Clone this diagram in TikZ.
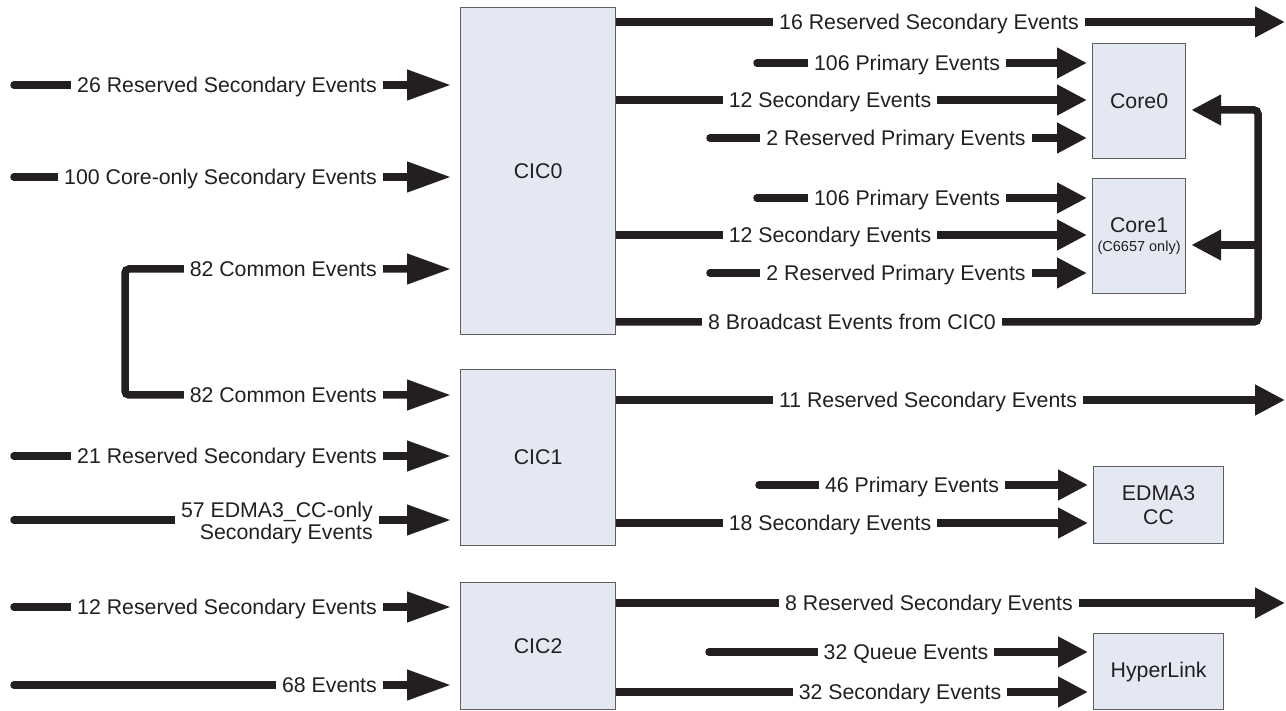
\documentclass[tikz,border=0pt]{standalone}
\usepackage{fontspec}
\setmainfont{Liberation Sans}
\usepackage{xcolor}
\usepackage{tikz}
\usetikzlibrary{arrows.meta}
\pgfdeclarelayer{bg}
\pgfsetlayers{bg,main}
\definecolor{ink}{RGB}{35,31,32}
\definecolor{boxfill}{RGB}{227,232,242}
\definecolor{boxline}{RGB}{95,95,95}
\tikzset{
	inTip/.tip={Triangle[length=44pt, width=29pt]},
	outTip/.tip={Triangle[length=30pt, width=29pt]},
}

\begin{document}
\begin{tikzpicture}[x=1pt, y=-1pt, font=\fontsize{21.3}{24}\selectfont,
		blk/.style={draw=boxline, fill=boxfill, line width=1.2pt, inner sep=0pt, anchor=north west, align=center, text=ink},
		lblm/.style={fill=white, inner xsep=6pt, inner ysep=2pt, text=ink, align=right},
		lbl/.style={lblm, text height=15pt, text depth=0pt},
		evt/.style={draw=ink, line width=7.5pt, -outTip},
		evtin/.style={draw=ink, line width=7.5pt, -inTip, shorten >=9pt},
		free/.style={line cap=round}]
		\useasboundingbox (0,0) rectangle (1286,711);

		\node[blk, minimum width=155pt, minimum height=327pt] (cic0) at (460,7) {CIC0};
		\node[blk, minimum width=155pt, minimum height=176pt] (cic1) at (460,369) {CIC1};
		\node[blk, minimum width=155pt, minimum height=127pt] (cic2) at (460,582) {CIC2};
		\node[blk, minimum width=93pt, minimum height=115pt] (core0) at (1092,43) {Core0};
		\node[blk, minimum width=93pt, minimum height=115pt] (core1) at (1092,178) {Core1\\[-5pt]{\fontsize{14.5}{16}\selectfont (C6657 only)}};
		\node[blk, minimum width=130pt, minimum height=77pt] (edma) at (1093,466) {EDMA3\\CC};
		\node[blk, minimum width=130pt, minimum height=76pt] (hl) at (1093,633) {HyperLink};

		\node[lbl, anchor=east] (l26) at (383,85) {26 Reserved Secondary Events};
		\node[lbl, anchor=east] (l100) at (383,177) {100 Core-only Secondary Events};
		\node[lbl, anchor=east] (lcom0) at (383,269) {82 Common Events};
		\node[lbl, anchor=east] (lcom1) at (383,395) {82 Common Events};
		\node[lbl, anchor=east] (l21) at (383,456) {21 Reserved Secondary Events};
		\node[lblm, anchor=east] (l57) at (379,523) {57 EDMA3\_CC-only\\[-2pt]Secondary Events};
		\node[lbl, anchor=east] (l12) at (383,607) {12 Reserved Secondary Events};
		\node[lbl, anchor=east] (l68) at (383,685) {68 Events};

		\node[lbl] (l16) at (929,22) {16 Reserved Secondary Events};
		\node[lbl] (lp0) at (907,63) {106 Primary Events};
		\node[lbl] (ls0) at (830,100) {12 Secondary Events};
		\node[lbl] (lr0) at (896,138) {2 Reserved Primary Events};
		\node[lbl] (lp1) at (907,198) {106 Primary Events};
		\node[lbl] (ls1) at (830,235) {12 Secondary Events};
		\node[lbl] (lr1) at (896,273) {2 Reserved Primary Events};
		\node[lbl] (lbc) at (852,322) {8 Broadcast Events from CIC0};
		\node[lbl] (l11) at (928,400) {11 Reserved Secondary Events};
		\node[lbl] (lp46) at (912,485) {46 Primary Events};
		\node[lbl] (ls18) at (830,523) {18 Secondary Events};
		\node[lbl] (l8) at (929,603) {8 Reserved Secondary Events};
		\node[lbl] (lq32) at (906,652) {32 Queue Events};
		\node[lbl] (ls32) at (900,692) {32 Secondary Events};

		\coordinate (s26) at (14,85);
		\coordinate (s100) at (14,177);
		\coordinate (s21) at (14,456);
		\coordinate (s57) at (14,520);
		\coordinate (s12) at (14,607);
		\coordinate (s68) at (14,685);
		\coordinate (com) at (125,330);
		\coordinate (p0) at (757,63);
		\coordinate (r0) at (710,138);
		\coordinate (p1) at (757,198);
		\coordinate (r1) at (710,273);
		\coordinate (p46) at (759,485);
		\coordinate (q32) at (709,652);
		\coordinate (o16) at (1285,22);
		\coordinate (o11) at (1285,400);
		\coordinate (o8) at (1285,603);
		\coordinate (b0) at (1258,110);
		\coordinate (b1) at (1258,245);

		\begin{pgfonlayer}{bg}
			\draw[evtin, free] (s26) -- (cic0.west |- s26);
			\draw[evtin, free] (s100) -- (cic0.west |- s100);
			\draw[evtin, inTip-inTip, shorten <=9pt, rounded corners=4pt] (cic0.west |- lcom0) -| (com) |- (cic1.west |- lcom1);
			\draw[evtin, free] (s21) -- (cic1.west |- s21);
			\draw[evtin, free] (s57) -- (cic1.west |- s57);
			\draw[evtin, free] (s12) -- (cic2.west |- s12);
			\draw[evtin, free] (s68) -- (cic2.west |- s68);

			\draw[evt] (cic0.east |- o16) -- (o16);
			\draw[evt, free, shorten >=5pt] (p0) -- (core0.west |- p0);
			\draw[evt, shorten >=5pt] (cic0.east |- ls0) -- (core0.west |- ls0);
			\draw[evt, free, shorten >=5pt] (r0) -- (core0.west |- r0);
			\draw[evt, free, shorten >=5pt] (p1) -- (core1.west |- p1);
			\draw[evt, shorten >=5pt] (cic0.east |- ls1) -- (core1.west |- ls1);
			\draw[evt, free, shorten >=5pt] (r1) -- (core1.west |- r1);
			\draw[evt, shorten >=5pt, rounded corners=4pt] (cic0.east |- lbc) -| (b0) -- (core0.east |- b0);
			\draw[evt, shorten >=5pt] (b1) -- (core1.east |- b1);

			\draw[evt] (cic1.east |- o11) -- (o11);
			\draw[evt, free, shorten >=5pt] (p46) -- (edma.west |- p46);
			\draw[evt, shorten >=5pt] (cic1.east |- ls18) -- (edma.west |- ls18);

			\draw[evt] (cic2.east |- o8) -- (o8);
			\draw[evt, free, shorten >=5pt] (q32) -- (hl.west |- q32);
			\draw[evt, shorten >=5pt] (cic2.east |- ls32) -- (hl.west |- ls32);
		\end{pgfonlayer}
	\end{tikzpicture}
\end{document}
